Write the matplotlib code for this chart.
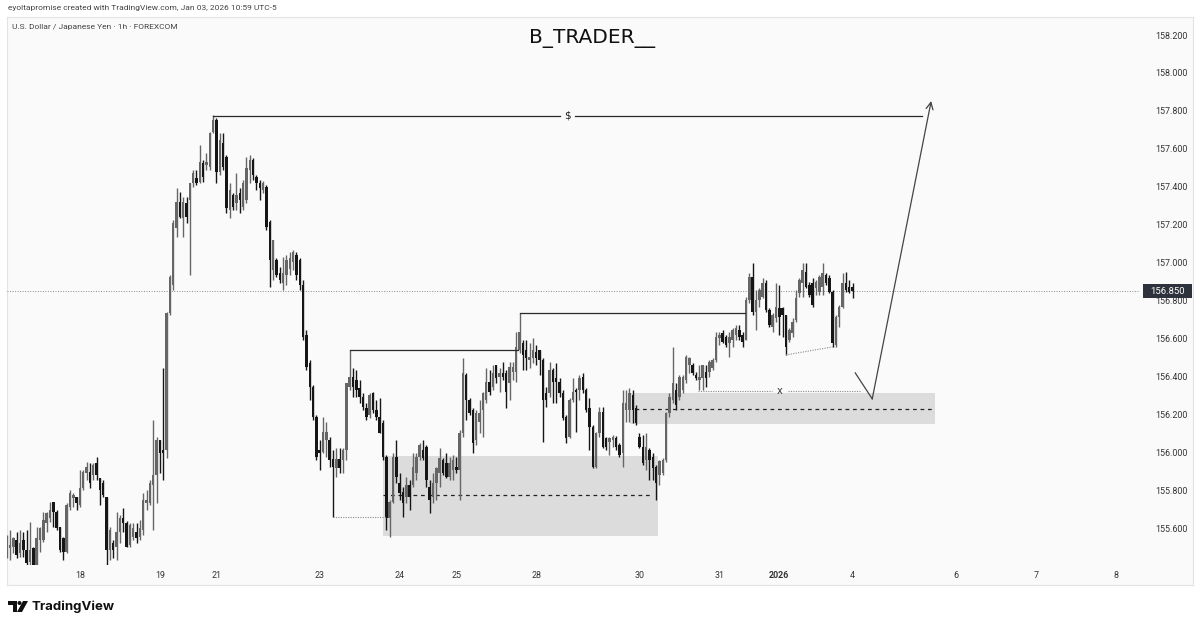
import numpy as np
import matplotlib
matplotlib.use("Agg")
import matplotlib.pyplot as plt
from matplotlib.patches import Rectangle, Polygon, Circle
from matplotlib.transforms import blended_transform_factory

# ---------------- data (USDJPY 1h) ----------------
opens = [
 155.484,155.495,155.500,155.537,155.468,155.537,155.484,155.421,155.495,155.395,
 155.537,155.537,155.627,155.653,155.737,155.685,155.606,155.547,155.474,155.711,
 155.758,155.764,155.721,155.811,155.890,155.895,155.880,155.943,155.864,155.837,
 155.764,155.484,155.521,155.500,155.579,155.653,155.627,155.511,155.553,155.579,
 155.553,155.590,155.732,155.732,155.827,155.880,156.064,156.012,156.012,156.734,
 156.881,157.182,157.319,157.235,157.314,157.330,157.420,157.446,157.425,157.525,
 157.514,157.504,157.688,157.752,157.478,157.630,157.557,157.277,157.357,157.314,
 157.367,157.293,157.330,157.488,157.541,157.451,157.420,157.383,157.399,157.214,
 156.961,157.013,156.945,156.892,156.934,156.966,157.003,157.040,157.013,156.881,
 156.618,156.470,156.344,156.186,156.012,156.001,156.064,156.064,155.964,155.917,
 155.964,155.959,156.012,156.344,156.396,156.381,156.338,156.291,156.233,156.196,
 156.312,156.222,156.186,156.154,155.975,155.653,155.737,155.975,155.837,155.790,
 155.764,155.827,155.827,155.890,155.975,156.012,156.027,155.816,155.764,155.837,
 155.890,155.959,155.943,155.869,155.906,155.922,155.906,156.101,156.407,156.275,
 156.222,156.064,156.159,156.222,156.275,156.370,156.344,156.460,156.396,156.418,
 156.418,156.365,156.423,156.423,156.539,156.576,156.539,156.486,156.497,156.528,
 156.539,156.486,156.312,156.312,156.433,156.391,156.370,156.312,156.186,156.080,
 156.275,156.328,156.328,156.396,156.328,156.233,156.133,155.922,156.101,156.212,
 156.075,156.054,156.064,156.075,156.038,155.996,156.222,156.222,156.302,156.233,
 156.080,156.027,155.959,156.012,155.975,155.922,155.880,155.890,155.959,156.207,
 156.275,156.328,156.291,156.328,156.381,156.460,156.460,156.407,156.381,156.391,
 156.423,156.423,156.444,156.486,156.602,156.628,156.607,156.576,156.592,156.618,
 156.644,156.618,156.592,156.802,156.924,156.739,156.802,156.819,156.892,156.750,
 156.660,156.708,156.761,156.761,156.724,156.592,156.628,156.697,156.839,156.892,
 156.950,156.881,156.892,156.866,156.845,156.871,156.934,156.918,156.845,156.565,
 156.713,156.766,156.892,156.871,156.871]
highs = [
 155.563,155.590,155.553,155.579,155.590,155.579,155.590,155.632,155.500,155.606,
 155.606,155.685,155.685,155.737,155.737,155.695,155.606,155.553,155.732,155.801,
 155.785,155.764,155.906,155.906,155.948,155.943,155.943,155.975,155.864,155.853,
 155.764,155.606,155.537,155.685,155.669,155.706,155.637,155.627,155.627,155.627,
 155.642,155.785,155.801,155.853,156.170,156.080,156.064,156.444,156.739,156.934,
 157.224,157.393,157.372,157.346,157.346,157.420,157.488,157.488,157.620,157.541,
 157.578,157.688,157.778,157.762,157.683,157.683,157.567,157.420,157.367,157.472,
 157.393,157.435,157.557,157.567,157.551,157.462,157.435,157.430,157.409,157.224,
 157.119,157.024,156.977,157.029,157.040,157.056,157.066,157.056,157.024,156.908,
 156.644,156.486,156.354,156.196,156.064,156.186,156.159,156.080,156.012,156.022,
 156.022,156.022,156.365,156.539,156.444,156.433,156.381,156.312,156.259,156.312,
 156.317,156.275,156.286,156.170,155.985,155.748,155.996,156.064,155.890,155.816,
 155.869,155.853,155.996,155.996,156.048,156.064,156.038,155.853,155.890,155.922,
 156.022,155.970,155.996,155.975,155.985,155.975,156.117,156.497,156.418,156.286,
 156.233,156.222,156.275,156.317,156.444,156.433,156.460,156.460,156.444,156.475,
 156.433,156.475,156.475,156.634,156.734,156.592,156.592,156.576,156.602,156.565,
 156.539,156.497,156.344,156.475,156.444,156.470,156.391,156.328,156.196,156.286,
 156.391,156.338,156.407,156.418,156.338,156.286,156.143,156.106,156.238,156.238,
 156.080,156.080,156.091,156.085,156.048,156.328,156.328,156.338,156.328,156.249,
 156.101,156.091,156.101,156.022,155.996,155.932,155.959,155.970,156.212,156.312,
 156.555,156.365,156.407,156.407,156.513,156.502,156.470,156.423,156.460,156.460,
 156.460,156.486,156.497,156.634,156.634,156.644,156.618,156.634,156.655,156.671,
 156.671,156.634,156.818,156.945,156.998,156.855,156.866,156.918,156.908,156.761,
 156.734,156.892,156.881,156.766,156.724,156.655,156.708,156.855,156.918,156.998,
 156.998,156.897,156.918,156.908,156.934,156.998,156.945,156.934,156.855,156.724,
 156.776,156.945,156.950,156.908,156.892]
lows = [
 155.442,155.432,155.468,155.442,155.447,155.447,155.395,155.405,155.395,155.389,
 155.474,155.526,155.579,155.632,155.606,155.590,155.474,155.432,155.468,155.695,
 155.711,155.695,155.711,155.801,155.853,155.811,155.853,155.853,155.721,155.764,
 155.379,155.432,155.442,155.432,155.521,155.579,155.500,155.500,155.537,155.521,
 155.537,155.563,155.695,155.721,155.590,155.732,155.890,155.853,155.970,156.724,
 156.855,157.135,157.235,157.135,157.209,156.934,157.399,157.409,157.420,157.425,
 157.488,157.488,157.683,157.420,157.462,157.488,157.261,157.235,157.277,157.277,
 157.261,157.277,157.314,157.420,157.435,157.383,157.330,157.367,157.172,156.871,
 156.908,156.924,156.892,156.855,156.881,156.934,156.961,156.908,156.855,156.592,
 156.433,156.275,156.170,155.959,155.906,155.996,155.975,155.922,155.658,155.869,
 155.890,155.890,155.959,156.328,156.291,156.291,156.259,156.222,156.170,156.180,
 156.207,156.170,156.101,155.959,155.590,155.553,155.732,155.837,155.748,155.658,
 155.732,155.695,155.816,155.853,155.959,155.959,155.816,155.679,155.732,155.748,
 155.816,155.880,155.864,155.853,155.853,155.890,155.748,156.080,156.170,156.196,
 155.996,156.038,156.101,156.080,156.259,156.302,156.328,156.365,156.317,156.381,
 156.233,156.275,156.381,156.370,156.523,156.433,156.433,156.444,156.470,156.460,
 156.407,156.054,156.238,156.291,156.259,156.259,156.291,156.170,156.048,156.075,
 156.265,156.106,156.275,156.312,156.212,156.012,155.917,155.917,156.080,156.022,
 156.012,155.985,156.027,156.012,155.975,155.922,156.159,156.159,156.154,156.143,
 156.022,155.932,155.906,155.853,155.853,155.748,155.827,155.880,155.948,156.186,
 156.259,156.222,156.275,156.312,156.365,156.418,156.407,156.381,156.328,156.328,
 156.344,156.396,156.433,156.475,156.565,156.576,156.555,156.502,156.555,156.592,
 156.592,156.555,156.592,156.787,156.724,156.644,156.766,156.813,156.739,156.660,
 156.634,156.686,156.618,156.607,156.513,156.581,156.607,156.686,156.819,156.819,
 156.866,156.819,156.766,156.829,156.829,156.829,156.881,156.839,156.555,156.555,
 156.660,156.761,156.845,156.839,156.813]
closes = [
 155.500,155.511,155.547,155.458,155.521,155.484,155.416,155.484,155.405,155.547,
 155.600,155.642,155.679,155.695,155.685,155.600,155.484,155.474,155.721,155.785,
 155.774,155.732,155.811,155.895,155.922,155.837,155.932,155.880,155.801,155.774,
 155.484,155.590,155.484,155.579,155.653,155.627,155.500,155.616,155.600,155.547,
 155.600,155.748,155.748,155.837,155.880,156.064,155.996,155.996,156.734,156.924,
 157.209,157.319,157.240,157.319,157.240,157.420,157.472,157.420,157.530,157.451,
 157.530,157.683,157.752,157.478,157.646,157.504,157.288,157.383,157.293,157.357,
 157.330,157.420,157.499,157.541,157.462,157.420,157.393,157.420,157.188,157.013,
 157.119,156.934,156.908,156.945,157.013,157.024,157.056,156.934,156.881,156.607,
 156.449,156.344,156.186,155.975,155.996,156.106,156.106,155.959,155.922,155.964,
 155.917,156.012,156.365,156.396,156.344,156.328,156.291,156.238,156.186,156.302,
 156.222,156.186,156.101,155.975,155.653,155.737,155.975,155.869,155.785,155.732,
 155.827,155.764,155.922,155.975,156.038,155.970,155.853,155.748,155.837,155.917,
 155.970,155.890,155.869,155.943,155.959,155.906,156.101,156.418,156.275,156.207,
 156.048,156.207,156.207,156.312,156.370,156.317,156.418,156.391,156.418,156.396,
 156.317,156.449,156.449,156.555,156.634,156.513,156.497,156.502,156.539,156.497,
 156.486,156.275,156.275,156.433,156.370,156.370,156.312,156.180,156.075,156.275,
 156.317,156.317,156.391,156.328,156.222,156.133,155.922,156.101,156.212,156.027,
 156.027,156.075,156.080,156.027,155.985,156.259,156.259,156.312,156.222,156.154,
 156.027,155.943,156.027,155.959,155.917,155.837,155.953,155.959,156.207,156.291,
 156.365,156.249,156.396,156.396,156.502,156.497,156.418,156.391,156.396,156.460,
 156.391,156.475,156.486,156.607,156.618,156.581,156.565,156.607,156.644,156.655,
 156.607,156.581,156.802,156.924,156.739,156.802,156.855,156.892,156.750,156.671,
 156.724,156.766,156.713,156.724,156.555,156.644,156.686,156.813,156.908,156.961,
 156.871,156.829,156.776,156.897,156.924,156.945,156.892,156.845,156.576,156.713,
 156.766,156.892,156.855,156.845,156.850]

date_labels = ["18", "19", "21", "23", "24", "25", "28", "30", "31", "2026", "4", "6", "7", "8"]
date_label_bars = [22, 46, 63, 94, 118, 135, 159, 190, 214, 232, 254, 285, 309, 333]
price_ticks = [155.6, 155.8, 156.0, 156.2, 156.4, 156.6, 156.8, 157.0, 157.2, 157.4, 157.6, 157.8, 158.0, 158.2]
last_price = 156.850

# annotation levels (prices / bar indices)
dollar_level = 157.773
dollar_span = (62, 274.9)
bos1_level, bos1_span = 156.539, (103, 153.4)
bos2_level, bos2_span = 156.734, (154, 221.8)
sweep_level, sweep_span = 155.658, (98, 114)
zone1 = (113, 195.6, 155.558, 155.979)
zone1_mid = 155.774
zone2 = (187.2, 278.8, 156.148, 156.312)
zone2_mid = 156.227
x_level, x_span, x_mark = 156.322, (207.6, 256.3), 232.2
lows_line = ((234, 156.513), (248, 156.555))
path_pts = [(254.8, 156.418), (259.9, 156.281), (277.6, 157.852)]

# ---------------- figure ----------------
W, H = 1200, 626
fig = plt.figure(figsize=(W / 100, H / 100), dpi=100, facecolor="white")
SMALL = ["Roboto", "DejaVu Sans"]

def fx(px):
    return px / W

def fy(py):
    return 1 - py / H

# outer frame of the chart (chart pane + scales)
frame_ax = fig.add_axes([fx(7), fy(585), fx(1193) - fx(7), fy(17) - fy(585)], zorder=0)
frame_ax.set_facecolor("#fafafb")
frame_ax.set_xticks([]); frame_ax.set_yticks([])
for s in frame_ax.spines.values():
    s.set_color("#e3e3e6"); s.set_linewidth(0.8)

ax = fig.add_axes([fx(7), fy(565), fx(1140) - fx(7), fy(17) - fy(565)], zorder=1)
ax.set_facecolor("none")
for s in ax.spines.values():
    s.set_visible(False)
ax.set_xlim(0.1, 340.3)
ax.set_ylim(155.405, 158.295)

n = len(closes)
x = np.arange(n)
o = np.array(opens); c = np.array(closes)
hi = np.array(highs); lo = np.array(lows)
up = c >= o
UPC, DNC = "#666666", "#161616"
cols = [UPC if u else DNC for u in up]

# zones
ax.add_patch(Rectangle((zone1[0], zone1[2]), zone1[1] - zone1[0], zone1[3] - zone1[2],
                       facecolor="#dcdcdc", edgecolor="none", zorder=1))
ax.add_patch(Rectangle((zone2[0], zone2[2]), zone2[1] - zone2[0], zone2[3] - zone2[2],
                       facecolor="#dcdcdc", edgecolor="none", zorder=1))
ax.plot([zone1[0], zone1[1] - 1.5], [zone1_mid, zone1_mid], color="#222222", lw=0.9,
        linestyle=(0, (3, 3)), zorder=2)
ax.plot([zone2[0] + 1.5, zone2[1] - 1], [zone2_mid, zone2_mid], color="#222222", lw=0.9,
        linestyle=(0, (3, 3)), zorder=2)

# current price line
ax.axhline(last_price, color="#8a8a8a", lw=0.7, linestyle=(0, (1, 1.6)), zorder=1.5)

# candles
ax.vlines(x, lo, hi, colors=cols, lw=1.0, zorder=3)
body_bot = np.minimum(o, c)
body_h = np.maximum(np.abs(c - o), 0.006)
ax.bar(x, body_h, bottom=body_bot, width=0.74, color=cols, linewidth=0, zorder=4)

# structure lines
LC = "#2a2a2a"
ax.plot([dollar_span[0], 166.0], [dollar_level] * 2, color=LC, lw=0.9, zorder=5)
ax.plot([170.8, dollar_span[1]], [dollar_level] * 2, color=LC, lw=0.9, zorder=5)
ax.text(168.4, dollar_level, "$", ha="center", va="center", fontsize=7.5, color="#222222", zorder=6)
ax.plot(bos1_span, [bos1_level] * 2, color=LC, lw=0.9, zorder=5)
ax.plot(bos2_span, [bos2_level] * 2, color=LC, lw=0.9, zorder=5)
ax.plot(sweep_span, [sweep_level] * 2, color="#8a8a8a", lw=0.8, linestyle=(0, (1, 1.2)), zorder=5)
ax.plot([x_span[0], x_mark - 2.4], [x_level] * 2, color="#8a8a8a", lw=0.8, linestyle=(0, (1, 1.2)), zorder=5)
ax.plot([x_mark + 2.4, x_span[1]], [x_level] * 2, color="#8a8a8a", lw=0.8, linestyle=(0, (1, 1.2)), zorder=5)
ax.text(x_mark, x_level, "x", ha="center", va="center", fontsize=7, color="#333333", zorder=6)
ax.plot([lows_line[0][0], lows_line[1][0]], [lows_line[0][1], lows_line[1][1]],
        color="#8a8a8a", lw=0.8, linestyle=(0, (1, 1.2)), zorder=5)

# projected path with arrow
ax.plot([path_pts[0][0], path_pts[1][0]], [path_pts[0][1], path_pts[1][1]], color="#444444", lw=0.9, zorder=5)
ax.annotate("", xy=path_pts[2], xytext=path_pts[1],
            arrowprops=dict(arrowstyle="->,head_length=0.5,head_width=0.25", color="#444444", lw=0.9,
                            shrinkA=0, shrinkB=0), zorder=5)

# axes ticks
ax.yaxis.tick_right()
ax.set_yticks(price_ticks)
ax.set_yticklabels([f"{p:.3f}" for p in price_ticks], family=SMALL)
ax.tick_params(axis="y", length=0, pad=11, labelsize=6.4, labelcolor="#333333")
ax.set_xticks(date_label_bars)
ax.set_xticklabels(date_labels, family=SMALL)
ax.tick_params(axis="x", length=0, pad=4.5, labelsize=6.4, labelcolor="#333333")
for lab in ax.get_xticklabels():
    if lab.get_text() == "2026":
        lab.set_fontweight("bold")

# last price label
tr = blended_transform_factory(fig.transFigure, ax.transData)
ax.add_patch(Rectangle((fx(1143), last_price - 0.037), fx(1192) - fx(1143), 0.074,
                       transform=tr, facecolor="#2e323d", edgecolor="none", clip_on=False, zorder=10))
ax.text(fx(1167.5), last_price, f"{last_price:.3f}", transform=tr, ha="center", va="center",
        fontsize=6.8, color="white", family=SMALL, clip_on=False, zorder=11)

# header texts
fig.text(fx(8), fy(8), "eyoltapromise created with TradingView.com, Jan 03, 2026 10:59 UTC-5",
         ha="left", va="center", fontsize=6.0, color="#444444", family=SMALL)
fig.text(fx(12), fy(27), "U.S. Dollar / Japanese Yen · 1h · FOREXCOM",
         ha="left", va="center", fontsize=6.0, color="#444444", family=SMALL, zorder=5)
fig.text(fx(592), fy(39), "B_TRADER__", ha="center", va="center", fontsize=14.5, color="#111111", zorder=5)

# TradingView logo
lax = fig.add_axes([fx(8), fy(613), fx(28) - fx(8), fy(600) - fy(613)])
lax.set_xlim(0, 20); lax.set_ylim(13, 0); lax.axis("off")
lax.add_patch(Rectangle((0, 1), 8.5, 4, facecolor="#111111", edgecolor="none"))
lax.add_patch(Rectangle((4.5, 1), 4, 11, facecolor="#111111", edgecolor="none"))
lax.add_patch(Circle((11.5, 3), 2.0, facecolor="#111111", edgecolor="none"))
lax.add_patch(Polygon([(15, 1), (20, 1), (14, 12), (9, 12)], closed=True, facecolor="#111111", edgecolor="none"))
fig.text(fx(31), fy(607), "TradingView", ha="left", va="center", fontsize=9.5,
         fontweight="bold", family=["Inter", "DejaVu Sans"], color="#111111")

fig.savefig("out.png", dpi=100, facecolor="white")
